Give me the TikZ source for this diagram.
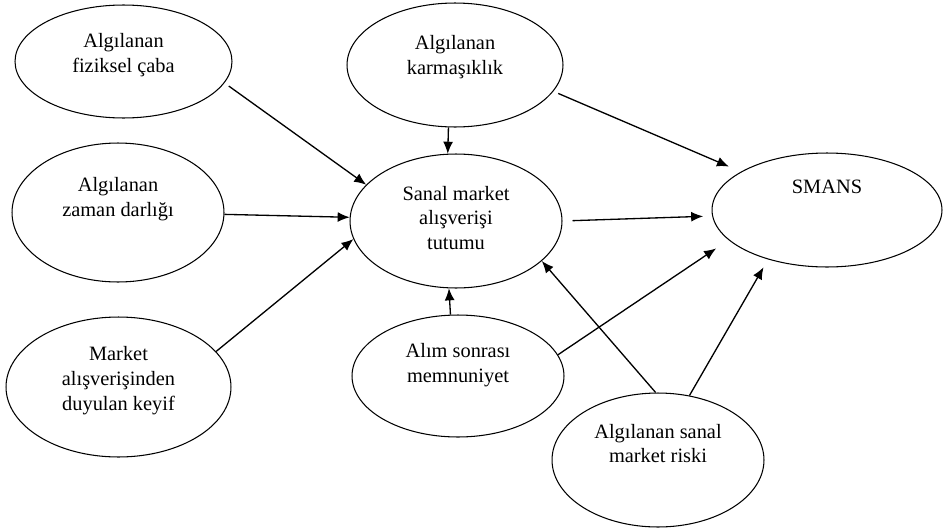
\documentclass[tikz,border=0pt]{standalone}
\usepackage{fontspec}
\setmainfont{Liberation Serif}
\usetikzlibrary{shapes.geometric,arrows.meta}
\tikzset{oval/.style={ellipse, draw, line width=0.6pt, inner sep=0pt}}
\tikzset{lbl/.style={align=center, inner sep=0pt, font=\fontsize{11.6}{14.2}\selectfont}}
\tikzset{arr/.style={-{Latex[length=0.24cm,width=0.2cm]}, line width=0.75pt}}

\begin{document}
\begin{tikzpicture}[x=0.02cm, y=-0.02cm]
            \useasboundingbox (0,0) rectangle (943,531);

            \node[oval, minimum width=4.34cm, minimum height=2.26cm] (fiz) at (123.5,61.5) {};
            \node[lbl] (fiz-t) at (123.5,55) {Algılanan\\fiziksel çaba};

            \node[oval, minimum width=4.24cm, minimum height=2.78cm] (zaman) at (118,212.5) {};
            \node[lbl] (zaman-t) at (118,199) {Algılanan\\zaman darlığı};

            \node[oval, minimum width=4.5cm, minimum height=2.8cm] (keyif) at (118.5,387) {};
            \node[lbl] (keyif-t) at (118.5,381) {Market\\alışverişinden\\duyulan keyif};

            \node[oval, minimum width=4.32cm, minimum height=2.48cm] (karma) at (455,65) {};
            \node[lbl] (karma-t) at (455,57.5) {Algılanan\\karmaşıklık};

            \node[oval, minimum width=4.24cm, minimum height=2.68cm] (tutum) at (456,221) {};
            \node[lbl] (tutum-t) at (456,218) {Sanal market\\alışverişi\\tutumu};

            \node[oval, minimum width=4.6cm, minimum height=2.28cm] (smans) at (827,210) {};
            \node[lbl] (smans-t) at (827,187) {SMANS};

            \node[oval, minimum width=4.24cm, minimum height=2.44cm] (alim) at (458,376) {};
            \node[lbl] (alim-t) at (458,365) {Alım sonrası\\memnuniyet};

            \node[oval, minimum width=4.24cm, minimum height=2.68cm] (risk) at (658,460) {};
            \node[lbl] (risk-t) at (658,443.5) {Algılanan sanal\\market riski};

            \draw[arr, shorten <=3pt] (fiz.-12) -- (tutum.158);
            \draw[arr] (zaman.-1) -- (tutum.178);
            \draw[arr] (keyif.20) -- (tutum.190);
            \draw[arr] (karma.264) -- (tutum.97);
            \draw[arr, shorten <=3pt, shorten >=0.26cm] (karma.-15) -- (smans.156.5);
            \draw[arr, shorten <=0.2cm, shorten >=0.18cm] (tutum.0) -- (smans.183.7);
            \draw[arr] (alim.97.6) -- (tutum.264.8);
            \draw[arr, shorten >=0.3cm] (alim.12) -- (smans.197);
            \draw[arr] (risk.92.6) -- (tutum.-25.5);
            \draw[arr, shorten >=0.18cm] (risk.64.5) -- (smans.220);
\end{tikzpicture}
\end{document}
